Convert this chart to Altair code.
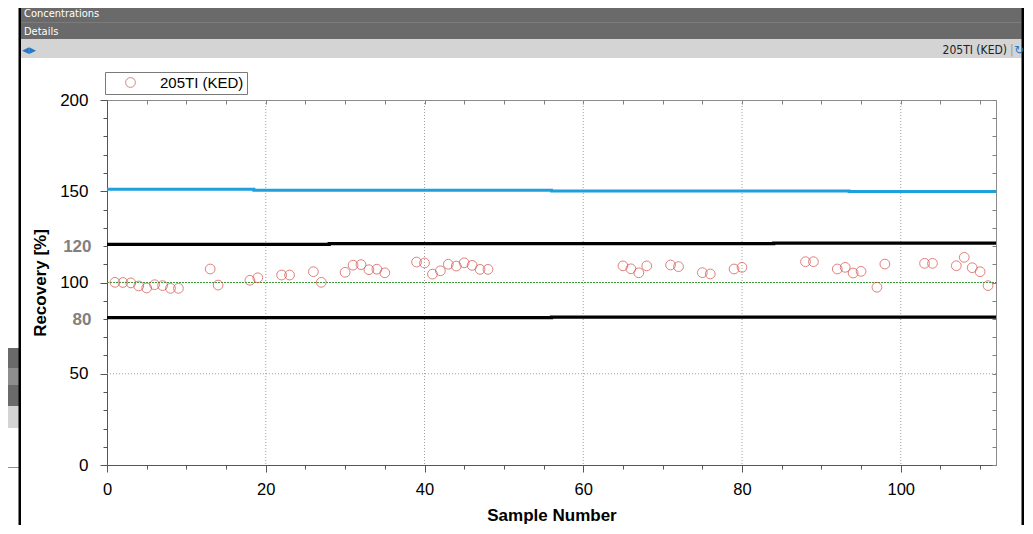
import altair as alt
import pandas as pd

# ---------------- data ----------------
series_name = "205TI (KED)"
sample = [1, 2, 3, 4, 5, 6, 7, 8, 9, 13, 14, 18, 19, 22, 23, 26, 27,
          30, 31, 32, 33, 34, 35, 39, 40, 41, 42, 43, 44, 45, 46, 47, 48,
          65, 66, 67, 68, 71, 72, 75, 76, 79, 80, 88, 89,
          92, 93, 94, 95, 97, 98, 103, 104, 107, 108, 109, 110, 111]
recovery = [100.1, 100.0, 99.8, 98.1, 97.0, 98.8, 98.3, 96.8, 96.8, 107.4, 98.6, 101.2, 102.6, 104.1, 104.1, 105.9, 100.1,
            105.6, 109.5, 109.8, 107.0, 107.3, 105.3, 111.2, 110.7, 104.6, 106.4, 110.0, 109.0, 110.8, 109.4, 107.2, 107.2,
            109.1, 107.5, 105.3, 109.1, 109.6, 108.7, 105.4, 104.7, 107.4, 108.3, 111.4, 111.4,
            107.4, 108.3, 105.2, 106.1, 97.4, 110.1, 110.5, 110.5, 109.2, 113.8, 108.1, 105.9, 98.3]

upper_x = [0, 18.5, 56, 93.5, 112]
upper_y = [151.1, 150.6, 150.2, 149.8, 149.8]
high_x = [0, 28, 84, 112]
high_y = [120.9, 121.3, 121.6, 121.6]
low_x = [0, 56, 112]
low_y = [80.7, 81.0, 81.0]
target_x = [0, 112]
target_y = [100, 100]
x_grid = [20, 40, 60, 80, 100]
y_grid = [50]
x_ticks = [0, 5, 10, 15, 20, 25, 30, 35, 40, 45, 50, 55, 60, 65, 70, 75, 80, 85, 90, 95, 100, 105, 110]
y_ticks = [0, 10, 20, 30, 40, 50, 60, 70, 80, 90, 100, 110, 120, 130, 140, 150, 160, 170, 180, 190, 200]

# ---------------- layout ----------------
W, H = 889, 365
OX, OY = 107, 100   # page position of plot origin
FONT = "Liberation Sans"
NARROW = "'DejaVu Sans Condensed', 'Liberation Sans', sans-serif"

xs = alt.Scale(domain=[0, 112], nice=False, zero=False)
ys = alt.Scale(domain=[0, 200], nice=False)

pts_df = pd.DataFrame({"sample": sample, "recovery": recovery, "series": series_name})

x_bottom = alt.Axis(
    orient="bottom", values=x_ticks, title="Sample Number",
    labelExpr="datum.value % 20 === 0 ? datum.label : ''",
    tickSize={"condition": {"test": "datum.value % 20 === 0", "value": 7}, "value": 4},
    tickColor="#555555", domainColor="#555555", grid=False,
    labelFont=FONT, labelFontSize=16.5, labelColor="black", labelPadding=9,
    labelOverlap=False, labelFlush=False,
    titleFont=FONT, titleFontSize=17, titleFontWeight="bold", titleColor="black", titlePadding=10,
)
y_left = alt.Axis(
    orient="left", values=y_ticks, title="Recovery [%]",
    labelExpr="(datum.value % 50 === 0 || datum.value === 80 || datum.value === 120) ? datum.label : ''",
    labelColor={"condition": {"test": "datum.value === 80 || datum.value === 120", "value": "#808080"}, "value": "black"},
    labelFontWeight={"condition": {"test": "datum.value === 80 || datum.value === 120", "value": "bold"}, "value": "normal"},
    tickSize={"condition": {"test": "datum.value % 50 === 0", "value": 7}, "value": 4},
    tickColor="#555555", domainColor="#555555", grid=False,
    labelFont=FONT, labelFontSize=17, labelPadding=12, labelOverlap=False, labelFlush=False,
    titleFont=FONT, titleFontSize=17, titleFontWeight="bold", titleColor="black", titlePadding=10,
)
x_top = alt.Axis(orient="top", offset=-4, values=x_ticks, tickSize=4, labels=False,
                 domain=False, grid=False, title=None, tickColor="#808080")
y_right = alt.Axis(orient="right", offset=-4, values=y_ticks, tickSize=4, labels=False,
                   domain=False, grid=False, title=None, tickColor="#808080")

grid_x = alt.Chart(pd.DataFrame({"g": x_grid})).mark_rule(
    color="#a0a0a0", strokeWidth=1, strokeDash=[1, 2]).encode(
    x=alt.X("g:Q", scale=xs, axis=None))
grid_y = alt.Chart(pd.DataFrame({"g": y_grid})).mark_rule(
    color="#a0a0a0", strokeWidth=1, strokeDash=[1, 2]).encode(
    y=alt.Y("g:Q", scale=ys, axis=None))

def limit_line(xv, yv, color, width, dash=None, xaxis=None, yaxis=None):
    kw = dict(color=color, strokeWidth=width, interpolate="step-after")
    if dash:
        kw["strokeDash"] = dash
    return alt.Chart(pd.DataFrame({"x": xv, "y": yv})).mark_line(**kw).encode(
        x=alt.X("x:Q", scale=xs, axis=xaxis),
        y=alt.Y("y:Q", scale=ys, axis=yaxis))

target = limit_line(target_x, target_y, "#3a9a3a", 1.2, dash=[2, 1])
upper = limit_line(upper_x, upper_y, "#1f9fdc", 3, xaxis=x_top, yaxis=y_right)
high = limit_line(high_x, high_y, "#000000", 3.3)
low = limit_line(low_x, low_y, "#000000", 3.3)

points = alt.Chart(pts_df).mark_point(shape="circle", filled=False, size=95, strokeWidth=1).encode(
    x=alt.X("sample:Q", scale=xs, axis=x_bottom),
    y=alt.Y("recovery:Q", scale=ys, axis=y_left),
    color=alt.Color("series:N", scale=alt.Scale(domain=[series_name], range=["#d24b45"]),
                    legend=alt.Legend(title=None, orient="none", legendX=-2, legendY=-28,
                                      padding=3, strokeColor="#7a7a7a", fillColor="white",
                                      symbolType="circle", symbolSize=95, symbolStrokeWidth=1,
                                      symbolOffset=15, labelOffset=22,
                                      labelFont=FONT, labelFontSize=15, labelColor="black",
                                      labelExpr="datum.label + '  '")),
)

# ---------------- window chrome around the chart (page coordinates) ----------------
one = pd.DataFrame({"k": [0]})

def box(x1, y1, x2, y2, color):
    return alt.Chart(one).mark_rect(color=color).encode(
        x=alt.value(x1 - OX), x2=alt.value(x2 - OX),
        y=alt.value(y1 - OY), y2=alt.value(y2 - OY))

def label(txt, x, y, color, size, align="left", font=NARROW):
    return alt.Chart(one).mark_text(align=align, baseline="alphabetic", color=color,
                                    fontSize=size, font=font).encode(
        x=alt.value(x - OX), y=alt.value(y - OY), text=alt.value(txt))

chrome = [
    box(20, 0, 1022, 39, "#6a6a6a"),
    box(20, 22, 1022, 23, "#7c7c7c"),
    box(20, 39, 1022, 58, "#d4d4d4"),
    box(0, 348, 19, 406, "#6a6a6a"),
    box(0, 368, 19, 385, "#8e8e8e"),
    box(0, 406, 19, 428, "#d4d4d4"),
    box(0, 467, 19, 468, "#909090"),
    box(18.5, 0, 21, 534, "#000000"),
    box(1021.5, 0, 1024, 534, "#000000"),
    label("Concentrations", 24, 17, "white", 11),
    label("Details", 24, 35, "white", 11),
    label("\u25c0\u25b6", 22, 53, "#2a78c2", 9, font="DejaVu Sans"),
    label("205TI (KED)", 1007, 54, "#222222", 12, align="right"),
    label("|", 1010, 54, "#9a9a9a", 12),
    label("\u21bb", 1014, 54, "#2a78c2", 12, font="DejaVu Sans"),
]

chart = alt.layer(
    grid_x, grid_y, target, upper, high, low, points, *chrome
).resolve_axis(x="independent", y="independent").properties(
    width=W, height=H,
    autosize=alt.AutoSizeParams(type="none"),
    padding={"left": 99, "top": 92, "right": 29, "bottom": 60},
    background="white",
).configure_view(stroke="#8c8c8c", strokeWidth=1)

chart.save("out.html", embed_options={"renderer": "svg", "actions": False})
